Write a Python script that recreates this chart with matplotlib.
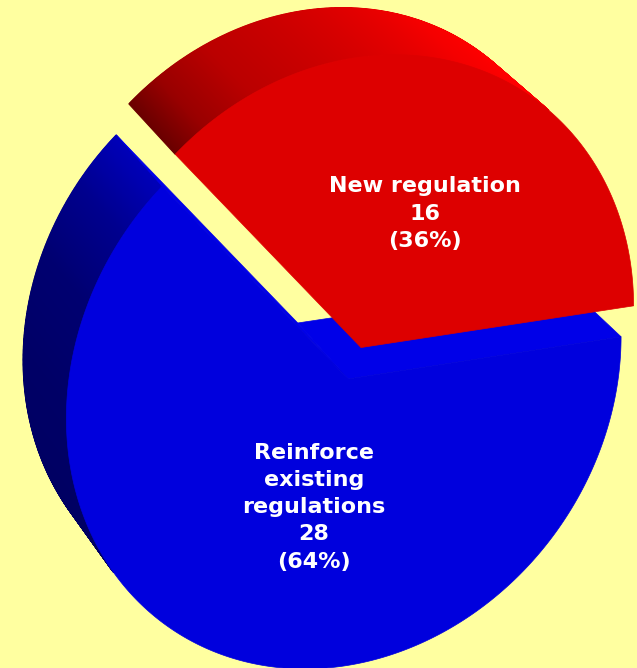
import numpy as np
import matplotlib
matplotlib.use("Agg")
import matplotlib.pyplot as plt
from matplotlib.patches import Polygon

labels = ["New regulation", "Reinforce\nexisting\nregulations"]
counts = [16, 28]
explode = [0.11226, 0.0]
top_colors = ["#DD0000", "#0000DD"]
cut_colors = ["#6E0000", "#0000E8"]

# side shading: outward-normal angle (deg) -> brightness of the pure hue
side_angle = [[0, 40, 55, 70, 85, 100, 115, 126, 134, 360],
              [0, 128, 134, 145, 160, 180, 220, 360]]
side_level = [[1.0, 1.0, 1.0, 0.96, 0.88, 0.80, 0.73, 0.60, 0.40, 0.40],
              [0.72, 0.72, 0.72, 0.56, 0.44, 0.40, 0.38, 0.38]]
hues = [np.array([1.0, 0.0, 0.0]), np.array([0.0, 0.0, 1.0])]

# label placement along each slice's bisector: (radius, angle nudge in deg)
label_pos = [(0.49, -4.0), (0.445, 8.0)]

W, H = 637, 668
BG = "#FFFFA0"

# off-axis perspective camera
TILT, TILT_AXIS = 0.20134, -1.20206
SHIFT = (3.83511, 5.79641, 11.25725)
FOCAL = 3394.83174
CENTER = (-808.29377, -1369.07175)
DEPTH = 0.33108
START = 2.32587      # angle of the edge where the first slice ends


def rot(axis, ang):
    k = np.asarray(axis, float)
    k = k / np.linalg.norm(k)
    K = np.array([[0, -k[2], k[1]], [k[2], 0, -k[0]], [-k[1], k[0], 0]])
    return np.eye(3) + np.sin(ang) * K + (1 - np.cos(ang)) * K @ K


R = rot([np.cos(TILT_AXIS), np.sin(TILT_AXIS), 0.0], TILT) @ np.diag([1.0, -1.0, -1.0])
T = np.array(SHIFT)


def to_cam(X):
    return np.atleast_2d(X) @ R.T + T


def proj(X):
    Xc = to_cam(X)
    return np.c_[CENTER[0] + FOCAL * Xc[:, 0] / Xc[:, 2],
                 CENTER[1] + FOCAL * Xc[:, 1] / Xc[:, 2]]


def facing(normal, X):
    # front-facing if the rotated normal points back toward the eye
    n = R @ np.asarray(normal, float)
    return float(n @ to_cam(X).mean(axis=0)) < 0


def ring(th, z, off):
    return np.c_[np.cos(th) + off[0], np.sin(th) + off[1], np.full(th.shape, z)]


fig = plt.figure(figsize=(W / 100, H / 100), dpi=100)
fig.patch.set_facecolor(BG)
ax = fig.add_axes([0, 0, 1, 1])
ax.set_xlim(0, W)
ax.set_ylim(H, 0)
ax.axis("off")

total = sum(counts)
spans = [2 * np.pi * c / total for c in counts]
a0 = START - spans[0]
starts = a0 + np.concatenate([[0.0], np.cumsum(spans)[:-1]])

# draw the un-exploded slice first so the exploded one sits on top
order = sorted(range(len(counts)), key=lambda i: explode[i])
for k, i in enumerate(order):
    z = 2 + 3 * k
    ta, tb = starts[i], starts[i] + spans[i]
    mid = (ta + tb) / 2
    off = explode[i] * np.array([np.cos(mid), np.sin(mid)])
    apex_top = np.array([off[0], off[1], 0.0])
    apex_bot = np.array([off[0], off[1], -DEPTH])

    # outer wall, in thin strips so the shading can vary round the rim
    n = max(8, int(np.degrees(spans[i]) * 4))
    th = np.linspace(ta, tb, n + 1)
    top = ring(th, 0.0, off)
    bot = ring(th, -DEPTH, off)
    for j in range(n):
        quad = np.array([top[j], top[j + 1], bot[j + 1], bot[j]])
        tm = (th[j] + th[j + 1]) / 2
        if not facing([np.cos(tm), np.sin(tm), 0.0], quad):
            continue
        lvl = np.interp(np.degrees(tm) % 360, side_angle[i], side_level[i])
        col = hues[i] * lvl
        ax.add_patch(Polygon(proj(quad), closed=True, facecolor=col,
                             edgecolor=col, lw=0.8, zorder=z))

    # radial cut faces at both edges
    for t_edge, sgn in ((ta, -1.0), (tb, 1.0)):
        normal = sgn * np.array([-np.sin(t_edge), np.cos(t_edge), 0.0])
        cor_t = ring(np.array([t_edge]), 0.0, off)[0]
        cor_b = ring(np.array([t_edge]), -DEPTH, off)[0]
        quad = np.array([apex_top, cor_t, cor_b, apex_bot])
        if facing(normal, quad):
            ax.add_patch(Polygon(proj(quad), closed=True, facecolor=cut_colors[i],
                                 edgecolor=cut_colors[i], lw=0.5, zorder=z + 0.5))

    # top face
    face = np.vstack([apex_top, top])
    ax.add_patch(Polygon(proj(face), closed=True, facecolor=top_colors[i],
                         edgecolor=top_colors[i], lw=0.5, zorder=z + 1))

    r_lab, nudge = label_pos[i]
    ang = mid + np.radians(nudge)
    lx, ly = proj(np.array([off[0] + r_lab * np.cos(ang), off[1] + r_lab * np.sin(ang), 0.0]))[0]
    pct = 100 * counts[i] / total
    ax.text(lx, ly, f"{labels[i]}\n{counts[i]}\n({pct:.0f}%)", color="white",
            fontsize=16, fontweight="bold", family="DejaVu Sans",
            ha="center", va="center", linespacing=1.45, zorder=20)

fig.savefig("out.png", dpi=100, facecolor=fig.get_facecolor())
